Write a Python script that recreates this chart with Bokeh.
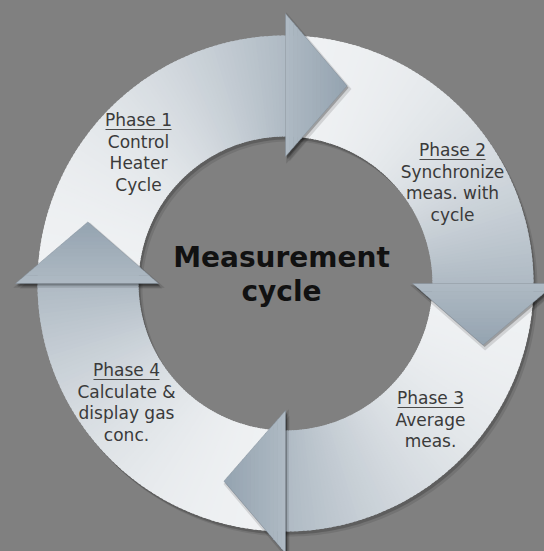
import numpy as np
from bokeh.plotting import figure
from bokeh.models import Range1d, ColumnDataSource
from bokeh.core.properties import value
from bokeh.embed import file_html
from bokeh.resources import INLINE

# ---------------- data ----------------
title_lines = ["Measurement", "cycle"]
phase_titles = ["Phase 1", "Phase 2", "Phase 3", "Phase 4"]
phase_texts = [
    ["Control", "Heater", "Cycle"],
    ["Synchronize", "meas. with", "cycle"],
    ["Average", "meas."],
    ["Calculate &", "display gas", "conc."],
]
head_angles = [0, 90, 180, 270]  # arrow head direction, degrees clockwise from top

# ---------------- layout / style ----------------
CX, CY = 285.0, 283.0
R_IN, R_OUT = 147.0, 248.0
HEAD_IN, HEAD_OUT = 127.0, 270.0
TIP_R, TIP_DEG = 207.0, 17.3
label_pos = [(138, 127), (452, 157), (430, 405), (126, 377)]
LINE_STEP = 21.4
UNDERLINE_W = 66
title_pos = [(281, 269), (281, 303)]
LABEL_FS, TITLE_FS = 17, 28
BASE_FIX = 0.42  # empirical baseline correction (in em) for the svg text
BG = "#808080"
C_LIGHT = np.array([247, 248, 249])
C_DARK = np.array([148, 163, 176])

W, H = 544, 551
p = figure(width=W, height=H, output_backend="svg", toolbar_location=None,
           x_range=Range1d(0, W), y_range=Range1d(H, 0),
           min_border=0, background_fill_color=BG, border_fill_color=BG,
           outline_line_color=None)
p.axis.visible = False
p.grid.visible = False


def pt(r, phi):
    a = np.radians(phi)
    return CX + r * np.sin(a), CY - r * np.cos(a)


def grad_color(x, y, h):
    a = np.radians(h)
    s = (x - CX) * np.cos(a) + (y - CY) * np.sin(a)
    smax = TIP_R * np.sin(np.radians(TIP_DEG))
    u = np.clip((s + R_OUT) / (smax + R_OUT), 0, 1)
    t = u ** 1.4
    c = C_LIGHT + (C_DARK - C_LIGHT) * t
    return "#%02x%02x%02x" % tuple(int(round(v)) for v in c)


def head_tri(h):
    x0, y0 = pt(HEAD_IN, h)
    x1, y1 = pt(HEAD_OUT, h)
    xt, yt = pt(TIP_R, h + TIP_DEG)
    return np.array([x0, x1, xt]), np.array([y0, y1, yt])


def sector(h):
    phis = np.linspace(h - 90, h, 91)
    xo, yo = pt(R_OUT, phis)
    xi, yi = pt(R_IN, phis[::-1])
    return np.concatenate([xo, xi]), np.concatenate([yo, yi])


# ---- shadows on background ----
for off, alpha in [((4, 5), 0.10), ((2, 3), 0.18)]:
    sx, sy = [], []
    for h in head_angles:
        xs, ys = sector(h)
        sx.append(xs + off[0]); sy.append(ys + off[1])
        tx, ty = head_tri(h)
        sx.append(tx + off[0]); sy.append(ty + off[1])
    p.patches(sx, sy, fill_color="black", fill_alpha=alpha, line_color=None)

# ---- arrow bodies with gradient (overlapping angular slices) ----
bx, by, bc = [], [], []
NA = 90
for h in head_angles:
    phis = np.linspace(h - 90, h, NA + 1)
    for i in range(NA):
        p0, p1 = phis[i], min(phis[i + 1] + 0.6, h)
        ph = np.array([p0, p1, p1, p0])
        rr = np.array([R_IN, R_IN, R_OUT, R_OUT])
        xs, ys = pt(rr, ph)
        bx.append(list(xs)); by.append(list(ys))
        mx, my = pt((R_IN + R_OUT) / 2, (phis[i] + phis[i + 1]) / 2)
        bc.append(grad_color(mx, my, h))
p.patches(xs="xs", ys="ys", fill_color="c", line_color=None,
          source=ColumnDataSource(dict(xs=bx, ys=by, c=bc)))

# ---- head shadows (cast on next body) ----
for grow, off, alpha in [(1.06, (2, 3), 0.12), (1.0, (1.5, 2), 0.25)]:
    sx, sy = [], []
    for h in head_angles:
        tx, ty = head_tri(h)
        mx, my = tx.mean(), ty.mean()
        sx.append(mx + (tx - mx) * grow + off[0])
        sy.append(my + (ty - my) * grow + off[1])
    p.patches(sx, sy, fill_color="black", fill_alpha=alpha, line_color=None)

# ---- heads with gradient ----
hx, hy, hc = [], [], []
NS = 16
for h in head_angles:
    tx, ty = head_tri(h)
    Pin, Pout, T = np.array([tx[0], ty[0]]), np.array([tx[1], ty[1]]), np.array([tx[2], ty[2]])
    ts = np.linspace(0, 1, NS + 1)
    for k in range(NS):
        t1 = min(ts[k + 1] + 0.01, 1.0)
        a0, a1 = Pin + ts[k] * (T - Pin), Pin + t1 * (T - Pin)
        b0, b1 = Pout + ts[k] * (T - Pout), Pout + t1 * (T - Pout)
        quad = np.array([a0, b0, b1, a1])
        hx.append(list(quad[:, 0])); hy.append(list(quad[:, 1]))
        m = quad.mean(axis=0)
        hc.append(grad_color(m[0], m[1], h))
p.patches(xs="xs", ys="ys", fill_color="c", line_color=None,
          source=ColumnDataSource(dict(xs=hx, ys=hy, c=hc)))
hx2, hy2 = [], []
for h in head_angles:
    tx, ty = head_tri(h)
    hx2.append(list(tx)); hy2.append(list(ty))
p.patches(hx2, hy2, fill_color=None, line_color="#7d8a95", line_width=0.7, line_alpha=0.6)

# ---- phase labels ----
tx_, ty_, tt_ = [], [], []
ux0, ux1, uy = [], [], []
lfix = BASE_FIX * LABEL_FS
for (x, y), ttl, lines in zip(label_pos, phase_titles, phase_texts):
    tx_.append(x); ty_.append(y - lfix); tt_.append(ttl)
    ux0.append(x - UNDERLINE_W / 2); ux1.append(x + UNDERLINE_W / 2); uy.append(y + 2)
    for n, ln in enumerate(lines):
        tx_.append(x); ty_.append(y + (n + 1) * LINE_STEP - lfix); tt_.append(ln)
p.text(x=tx_, y=ty_, text=tt_, text_font=value("DejaVu Sans"), text_font_size=f"{LABEL_FS}px",
       text_align="center", text_baseline="alphabetic", text_color="#3a3a3a")
p.segment(x0=ux0, y0=uy, x1=ux1, y1=uy, line_color="#4a4a4a", line_width=1.2)

# ---- centre title ----
tfix = BASE_FIX * TITLE_FS
p.text(x=[q[0] for q in title_pos], y=[q[1] - tfix for q in title_pos], text=title_lines,
       text_font=value("DejaVu Sans"), text_font_size=f"{TITLE_FS}px", text_font_style="bold",
       text_align="center", text_baseline="alphabetic", text_color="#111111")

html = file_html(p, INLINE, template="{% block preamble %}<style>html,body{background:#808080;}</style>{% endblock %}")
open("out.html", "w").write(html)
